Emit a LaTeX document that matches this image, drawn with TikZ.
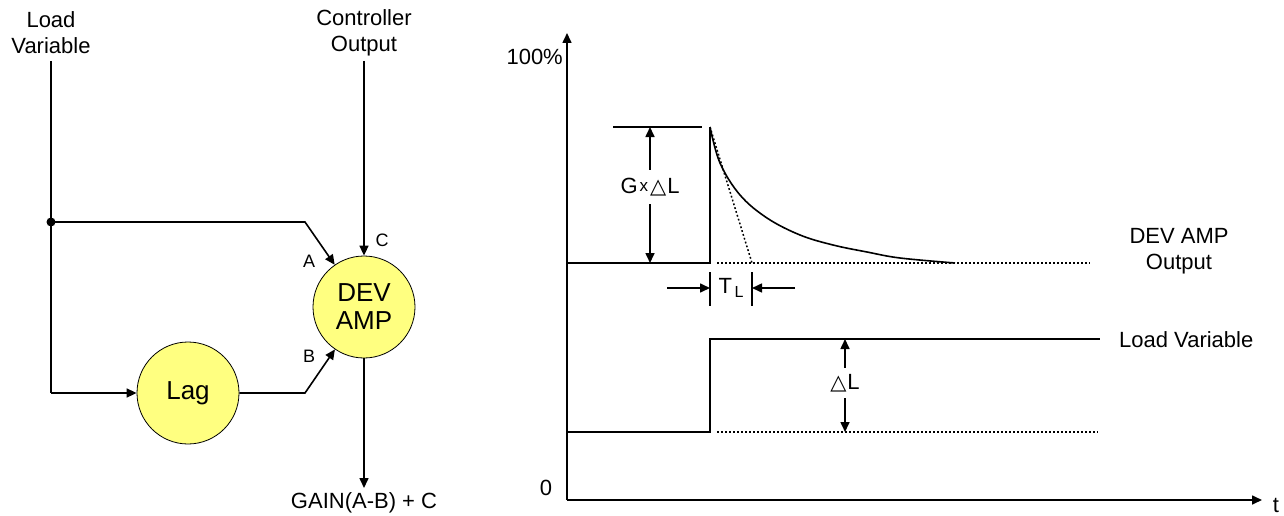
\documentclass[tikz,border=0pt]{standalone}
\usepackage{fontspec}
\setmainfont{Liberation Sans}
\newfontfamily\symfont{DejaVu Sans}
\usetikzlibrary{arrows.meta}
\definecolor{lagyellow}{RGB}{255,255,128}
\newcommand{\tridelta}{{\symfont\fontsize{21}{21}\selectfont △}}
\begin{document}
\begin{tikzpicture}[x=1pt,y=-1pt,
  ln/.style={line width=1.6pt},
  conn/.style={line width=1.6pt, -{Triangle[length=10pt,width=9pt]}},
  dotl/.style={line width=1.5pt, dash pattern=on 1.8pt off 2.2pt},
  blob/.style={circle, draw, line width=0.8pt, fill=lagyellow, minimum size=102pt, inner sep=0pt, font=\fontsize{26}{28}\selectfont, align=center},
  lbl/.style={font=\fontsize{22}{26}\selectfont, align=center, inner sep=0pt},
  small/.style={font=\fontsize{18}{20}\selectfont, inner sep=0pt}]
\useasboundingbox (0,0) rectangle (1284,516);
% ---------- block diagram ----------
\node[lbl] (lv) at (51,33) {Load\\Variable};
\node[lbl] (co) at (364,33) {Controller\\Output};
\node[blob] (dev) at (364,307) {DEV\\AMP};
\node[blob] (lag) at (188,393) {Lag};
\node[lbl] (gain) at (364,503) {GAIN(A-B) + C};
\coordinate (lvt) at (51,61);
\coordinate (j) at (51,222);
\coordinate (lvb) at (51,393);
\coordinate (ka) at (305,222);
\coordinate (kb) at (305,393);
\coordinate (cot) at (364,61);
\coordinate (gt) at (364,488);
\draw[ln] (lvt) -- (j) -- (lvb);
\draw[conn] (lvb) -- (lag);
\fill (j) circle (4.5pt);
\draw[conn] (j) -- (ka) -- (dev);
\draw[conn] (lag) -- (kb) -- (dev);
\draw[conn] (cot) -- (dev);
\draw[conn] (dev) -- (gt);
\node[small] (la) at (309,261) {A};
\node[small] (lb) at (309,356) {B};
\node[small] (lc) at (382,240) {C};
% ---------- graph ----------
\coordinate (O) at (567,500);
\coordinate (ytop) at (567,33);
\coordinate (xend) at (1262,500);
\draw[conn] (O) -- (ytop);
\draw[conn] (O) -- (xend);
\node[lbl, anchor=east] (p100) at (563,57) {100\%};
\node[lbl] (zero) at (546,488) {0};
\node[lbl] (tlab) at (1276,505) {t};
% DEV AMP output
\coordinate (d0) at (567,263);
\coordinate (d1) at (710,263);
\coordinate (d2) at (710,127);
\draw[ln] (d0) -- (d1) -- (d2);
\draw[ln] plot[smooth, tension=0.6] coordinates {(710,127) (720,163) (740,195) (767,218) (800,235) (833,245) (867,252) (900,258) (955,263)};
\draw[dotl] (717,263) -- (1090,263);
\draw[dotl] (d2) -- (752,263);
\draw[ln] (613,127) -- (702,127);
\node[lbl, inner ysep=8pt] (gdl) at (650,187) {G\kern2pt\raisebox{2pt}{\fontsize{17}{17}\selectfont x}\kern2pt\tridelta\kern1pt L};
\coordinate (gtop) at (650,127);
\coordinate (gbot) at (650,263);
\draw[conn] (gdl.north) -- (gtop);
\draw[conn] (gdl.south) -- (gbot);
% T_L
\coordinate (t1a) at (710,272); \coordinate (t1b) at (710,306);
\coordinate (t2a) at (752,272); \coordinate (t2b) at (752,306);
\draw[ln] (t1a) -- (t1b);
\draw[ln] (t2a) -- (t2b);
\coordinate (tla) at (667,288); \coordinate (tlt) at (710,288);
\coordinate (tra) at (795,288); \coordinate (trt) at (752,288);
\draw[conn] (tla) -- (tlt);
\draw[conn] (tra) -- (trt);
\node[lbl] (tl) at (731,288) {T\raisebox{-4pt}{\fontsize{16}{16}\selectfont\,L}};
% Load variable
\coordinate (l0) at (567,432);
\coordinate (l1) at (710,432);
\coordinate (l2) at (710,339);
\coordinate (l3) at (1100,339);
\draw[ln] (l0) -- (l1) -- (l2) -- (l3);
\draw[dotl] (717,432) -- (1098,432);
\node[lbl, inner ysep=6pt] (dl) at (845,383) {\tridelta\kern1pt L};
\coordinate (dltop) at (845,339);
\coordinate (dlbot) at (845,432);
\draw[conn] (dl.north) -- (dltop);
\draw[conn] (dl.south) -- (dlbot);
\node[lbl] (devout) at (1179,251) {DEV AMP\\Output};
\node[lbl, anchor=west] (lvar) at (1119,340) {Load Variable};
\end{tikzpicture}
\end{document}
